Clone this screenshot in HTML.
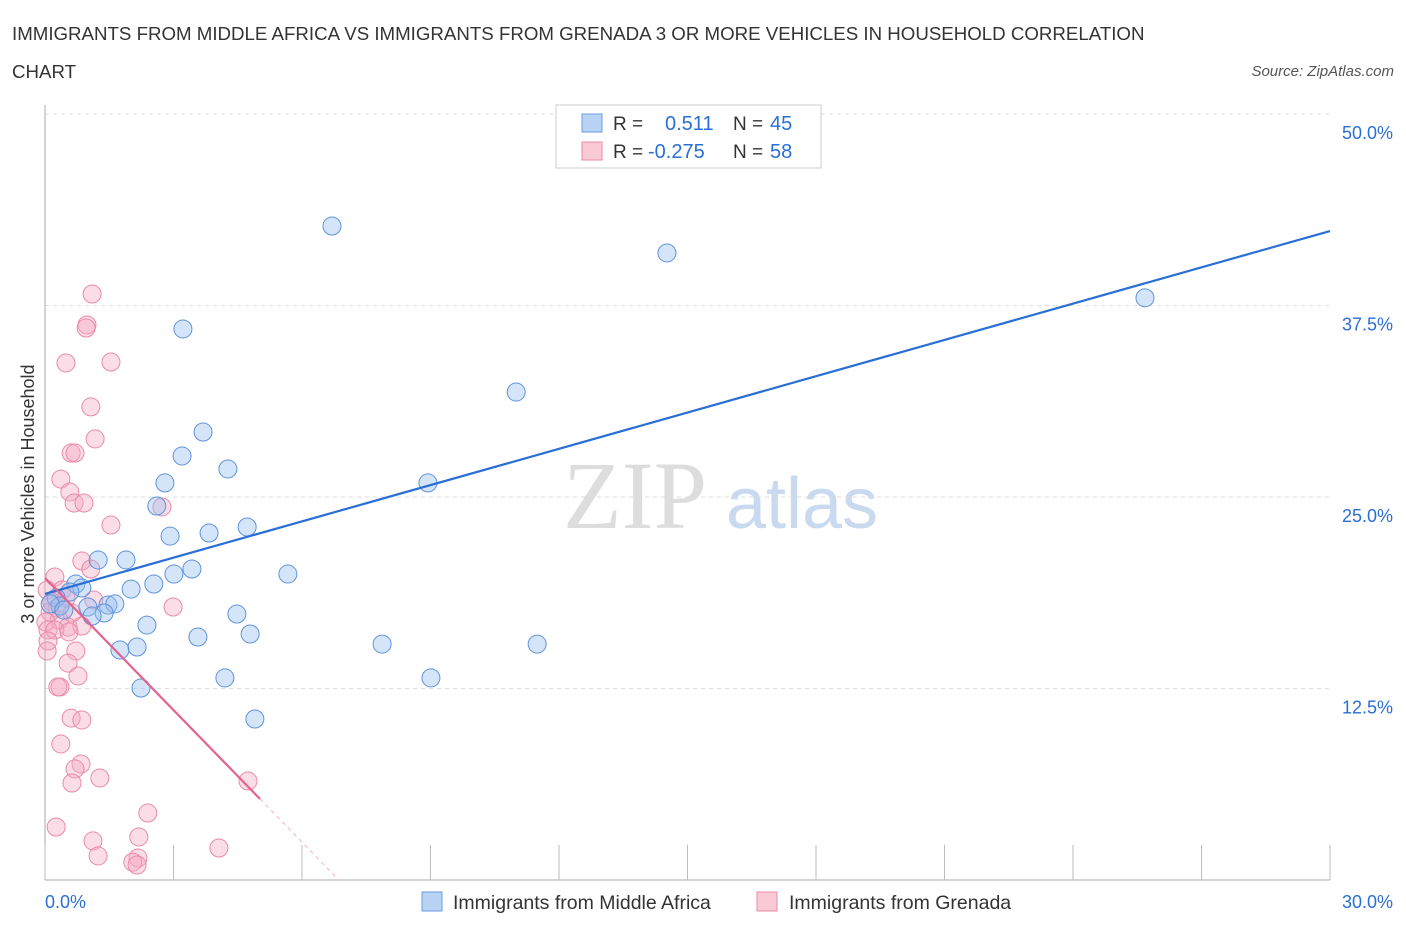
<!DOCTYPE html>
<html><head><meta charset="utf-8"><style>
body{margin:0;background:#fff;font-family:"Liberation Sans",sans-serif}
</style></head><body>
<svg width="1406" height="930" xmlns="http://www.w3.org/2000/svg" style="font-family:'Liberation Sans',sans-serif">
<text x="12" y="40" font-size="18.7" fill="#333">IMMIGRANTS FROM MIDDLE AFRICA VS IMMIGRANTS FROM GRENADA 3 OR MORE VEHICLES IN HOUSEHOLD CORRELATION</text>
<text x="12" y="78" font-size="18.7" fill="#333">CHART</text>
<text x="1394" y="76" font-size="15" fill="#555" font-style="italic" text-anchor="end">Source: ZipAtlas.com</text>
<text x="635" y="528" font-size="96" fill="#ddd" font-family="Liberation Serif" text-anchor="middle">ZIP</text>
<text x="802" y="528" font-size="72" fill="#c9d9f0" text-anchor="middle">atlas</text>
<g id="grid"></g>
<g id="axes"></g>
<g id="pts"></g>
<g id="lines"></g>
<text transform="translate(34,494) rotate(-90)" font-size="18" fill="#333" text-anchor="middle">3 or more Vehicles in Household</text>
<g>
<rect x="556" y="105" width="265" height="63" fill="#fff" stroke="#ccc"/>
<rect x="582" y="114" width="20" height="18" fill="#b9d3f5" stroke="#6a9be0"/>
<rect x="582" y="142" width="20" height="18" fill="#f9c9d6" stroke="#e98aa6"/>
<text x="613" y="130" font-size="19" fill="#333">R = </text><text x="665" y="130" font-size="20" fill="#2a6fd6">0.511</text>
<text x="733" y="130" font-size="19" fill="#333">N = </text><text x="770" y="130" font-size="20" fill="#2a6fd6">45</text>
<text x="613" y="158" font-size="19" fill="#333">R = </text><text x="648" y="158" font-size="20" fill="#2a6fd6">-0.275</text>
<text x="733" y="158" font-size="19" fill="#333">N = </text><text x="770" y="158" font-size="20" fill="#2a6fd6">58</text>
</g>
<g>
<rect x="422" y="892" width="20" height="19" fill="#b9d3f5" stroke="#6a9be0"/>
<text x="453" y="909" font-size="19.5" fill="#333">Immigrants from Middle Africa</text>
<rect x="757" y="892" width="20" height="19" fill="#f9c9d6" stroke="#e98aa6"/>
<text x="789" y="909" font-size="19.5" fill="#333">Immigrants from Grenada</text>
</g>
</svg>
<script>
const yTicks=[12.5,25,37.5,50];
const yTickLabels=["12.5%","25.0%","37.5%","50.0%"];
const xTicks=[0,3,6,9,12,15,18,21,24,27,30];
const blueX=[6.70,14.52,25.68,3.22,11.0,3.69,3.20,4.27,8.94,2.80,2.61,4.72,3.83,2.92,1.24,1.89,5.67,3.43,3.01,0.72,0.86,2.54,2.01,0.58,0.26,0.35,1.47,1.63,1.0,1.38,1.10,4.48,2.38,4.79,3.57,7.87,11.49,1.75,2.15,4.20,9.01,2.24,4.90,0.12,0.44];
const blueY=[42.69,40.93,38.0,35.97,31.85,29.24,27.68,26.83,25.92,25.92,24.41,23.04,22.65,22.45,20.89,20.89,19.97,20.30,19.97,19.32,19.06,19.32,18.99,18.80,18.41,17.89,17.95,18.02,17.82,17.43,17.23,17.36,16.64,16.06,15.86,15.40,15.40,15.01,15.21,13.19,13.19,12.53,10.51,18.02,17.62];
const pinkX=[1.10,0.98,0.96,1.54,0.49,1.07,1.17,0.61,0.70,0.37,0.58,0.68,0.91,1.54,2.73,0.86,1.07,0.23,0.40,0.05,0.49,1.14,0.16,0.28,0.12,0.63,0.33,0.02,0.54,0.86,0.07,0.23,0.56,2.99,0.07,0.72,0.54,0.05,0.77,0.35,0.30,0.61,0.86,0.37,0.84,0.70,1.28,0.63,4.74,2.40,0.26,1.12,2.19,4.06,1.24,2.17,2.05,2.15];
const pinkY=[38.25,36.23,36.03,33.81,33.75,30.88,28.79,27.87,27.87,26.17,25.33,24.61,24.61,23.17,24.35,20.82,20.30,19.78,18.93,18.93,18.41,18.28,18.15,17.75,17.49,17.43,16.97,16.84,16.51,16.58,16.32,16.32,16.19,17.82,15.60,14.95,14.16,14.95,13.32,12.60,12.60,10.57,10.44,8.88,7.57,7.25,6.66,6.33,6.46,4.37,3.46,2.55,2.81,2.09,1.57,1.44,1.17,0.98];
const blueLine=[[0,18.67],[30,42.36]];
const pinkLine=[[0,19.71],[5.02,5.29]];
const pinkDash=[[5.02,5.29],[6.86,0]];
const NS="http://www.w3.org/2000/svg";
const X=v=>45+v/30*1285, Y=v=>880-v/50*766;
function mk(t,a,p){const e=document.createElementNS(NS,t);for(const k in a)e.setAttribute(k,a[k]);document.getElementById(p).appendChild(e);return e;}
yTicks.forEach((t,i)=>{
 const l=mk('line',{x1:45,x2:1330,y1:Y(t),y2:Y(t),stroke:'#ddd','stroke-dasharray':'4,4'},'grid');
 
 
 const tx=mk('text',{x:1393,y:Y(t)+25,'font-size':18,fill:'#2a6fd6','text-anchor':'end'},'grid');
 tx.textContent=yTickLabels[i];
 
 
});
const ax=mk('line',{x1:45,x2:45,y1:105,y2:880,stroke:'#aaa'},'axes');


const bx=mk('line',{x1:45,x2:1330,y1:880,y2:880,stroke:'#aaa'},'axes');


xTicks.forEach(t=>{const l=mk('line',{x1:X(t),x2:X(t),y1:845,y2:880,stroke:'#bbb'},'axes');
 
 });
[["0.0%",45,'start'],["30.0%",1393,'end']].forEach(a=>{const t=mk('text',{x:a[1],y:908,'font-size':18,fill:'#2a6fd6','text-anchor':a[2]},'axes');t.textContent=a[0];
 
 });
pinkX.forEach((v,i)=>{const c=mk('circle',{cx:X(v),cy:Y(pinkY[i]),r:9,fill:'rgba(246,170,194,0.4)',stroke:'#ea8aa8','stroke-width':1},'pts');
 
 });
blueX.forEach((v,i)=>{const c=mk('circle',{cx:X(v),cy:Y(blueY[i]),r:9,fill:'rgba(150,190,240,0.4)',stroke:'#5f93dc','stroke-width':1},'pts');
 
 });
const bl=mk('line',{x1:X(blueLine[0][0]),y1:Y(blueLine[0][1]),x2:X(blueLine[1][0]),y2:Y(blueLine[1][1]),stroke:'#2a6fd6','stroke-width':2.2},'lines');


const pl=mk('line',{x1:X(pinkLine[0][0]),y1:Y(pinkLine[0][1]),x2:X(pinkLine[1][0]),y2:Y(pinkLine[1][1]),stroke:'#e4628d','stroke-width':2.2},'lines');


const pd=mk('line',{x1:X(pinkDash[0][0]),y1:Y(pinkDash[0][1]),x2:X(pinkDash[1][0]),y2:Y(pinkDash[1][1]),stroke:'#f0b0c4','stroke-width':1,'stroke-dasharray':'4,4'},'lines');


</script>
</body></html>
